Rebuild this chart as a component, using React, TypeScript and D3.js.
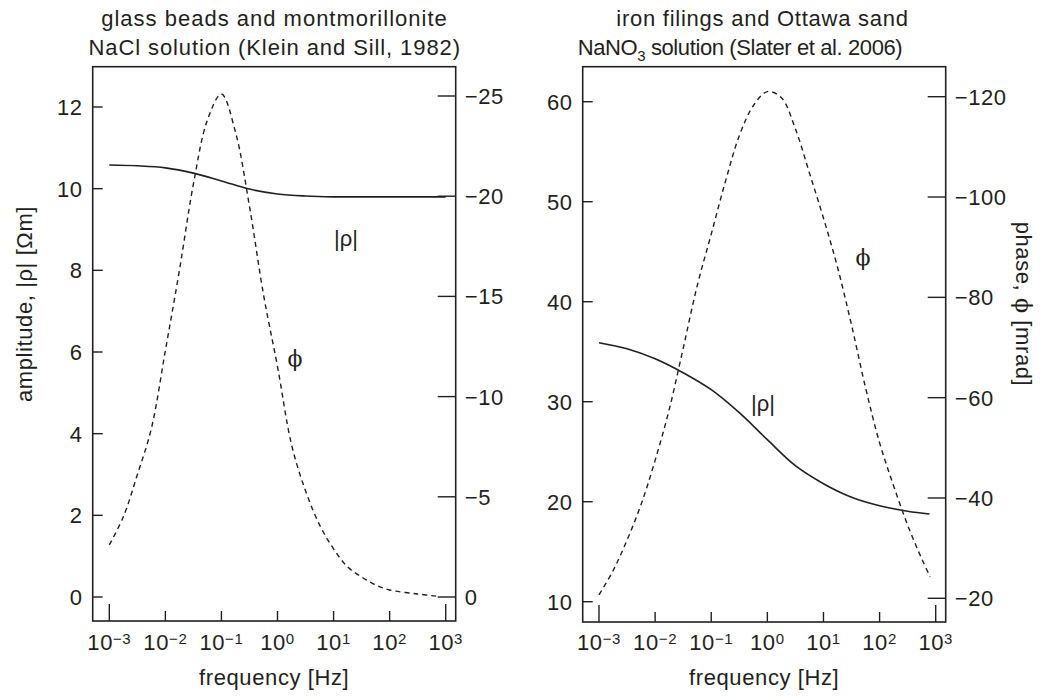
import React from 'react';
import * as d3 from 'd3';

// ---------- data ----------
const freqTicks = [1e-3, 1e-2, 1e-1, 1, 1e1, 1e2, 1e3];
const freqTickExp = ['−3', '−2', '−1', '0', '1', '2', '3'];

// Left panel: glass beads and montmorillonite (Klein and Sill, 1982)
const leftAmpTicks = [0, 2, 4, 6, 8, 10, 12];
const leftPhaseTicks = [0, -5, -10, -15, -20, -25];
const leftAmpFreq = [0.001, 0.00316, 0.01, 0.0316, 0.1, 0.316, 1, 3.16, 10, 100, 1000];
const leftAmpVal = [10.58, 10.56, 10.51, 10.38, 10.19, 9.99, 9.87, 9.82, 9.8, 9.8, 9.8];
const leftPhaseFreq = [0.001, 0.00178, 0.00316, 0.00562, 0.01, 0.0178, 0.0316, 0.0562, 0.1, 0.178, 0.316, 0.562, 1, 1.78, 3.16, 5.62, 10, 17.8, 31.6, 56.2, 100, 316, 741];
const leftPhaseVal = [-2.6, -4.0, -6.1, -8.4, -12.3, -16.3, -20.6, -23.8, -25.1, -23.2, -19.5, -15.1, -11.5, -7.6, -5.3, -3.6, -2.4, -1.5, -1.0, -0.6, -0.35, -0.15, -0.03];

// Right panel: iron filings and Ottawa sand (Slater et al. 2006)
const rightAmpTicks = [10, 20, 30, 40, 50, 60];
const rightPhaseTicks = [-20, -40, -60, -80, -100, -120];
const rightAmpFreq = [0.001, 0.00316, 0.01, 0.0316, 0.1, 0.316, 1, 3.16, 10, 31.6, 100, 316, 776];
const rightAmpVal = [35.9, 35.3, 34.3, 32.9, 31.2, 28.9, 26.2, 23.6, 21.8, 20.45, 19.6, 19.05, 18.77];
const rightPhaseFreq = [0.001, 0.00178, 0.00316, 0.00562, 0.01, 0.0178, 0.0316, 0.0562, 0.1, 0.178, 0.316, 0.562, 1, 1.78, 3.16, 5.62, 10, 17.8, 31.6, 56.2, 100, 178, 316, 562, 794];
const rightPhaseVal = [-20.7, -25.5, -31.6, -38.7, -47.5, -57.6, -69.8, -82.3, -92.6, -103.0, -112.2, -118.2, -121.0, -119.8, -113.6, -104.8, -95.8, -86.0, -74.5, -62.0, -51.0, -42.4, -34.6, -27.9, -24.3];

// ---------- style ----------
const INK = '#231f20';
const SANS = '"Liberation Sans", Arial, Helvetica, sans-serif';
const SERIF = '"DejaVu Serif", "Liberation Serif", serif';

type PanelProps = {
  x0: number; x1: number; y0: number; y1: number;
  xr: [number, number];
  ampDomain: [number, number]; ampRange: [number, number];
  phDomain: [number, number]; phRange: [number, number];
  ampTicks: number[]; phTicks: number[];
  ampF: number[]; ampV: number[]; phF: number[]; phV: number[];
  rhoPos: [number, number]; phiPos: [number, number];
  title1: React.ReactNode; title2: React.ReactNode;
  t1x: number; t2x: number; ls1: number; ls2: number;
};

function Panel(p: PanelProps) {
  const x = d3.scaleLog().domain([1e-3, 1e3]).range(p.xr);
  const ya = d3.scaleLinear().domain(p.ampDomain).range(p.ampRange);
  const yp = d3.scaleLinear().domain(p.phDomain).range(p.phRange);
  const ampLine = d3.line<number>().x((_, i) => x(p.ampF[i])).y(d => ya(d)).curve(d3.curveCatmullRom.alpha(0.5));
  const phLine = d3.line<number>().x((_, i) => x(p.phF[i])).y(d => yp(d)).curve(d3.curveCatmullRom.alpha(0.5));
  const cx = (p.x0 + p.x1) / 2;
  return (
    <g>
      <text x={p.t1x} y={26} textAnchor="middle" fontSize={22} letterSpacing={p.ls1} fill={INK}>{p.title1}</text>
      <text x={p.t2x} y={55} textAnchor="middle" fontSize={22} letterSpacing={p.ls2} fill={INK}>{p.title2}</text>
      <path d={ampLine(p.ampV) || ''} fill="none" stroke={INK} strokeWidth={1.6} />
      <path d={phLine(p.phV) || ''} fill="none" stroke={INK} strokeWidth={1.4} strokeDasharray="5,4" />
      <rect x={p.x0} y={p.y0} width={p.x1 - p.x0} height={p.y1 - p.y0} fill="none" stroke={INK} strokeWidth={1.6} />
      {p.ampTicks.map(t => (
        <g key={'a' + t}>
          <line x1={p.x0} x2={p.x0 + 10} y1={ya(t)} y2={ya(t)} stroke={INK} strokeWidth={1.4} />
          <text x={p.x0 - 10} y={ya(t)} dy="0.36em" textAnchor="end" fontSize={22} letterSpacing={0.6} fill={INK}>{t}</text>
        </g>
      ))}
      {p.phTicks.map(t => (
        <g key={'p' + t}>
          <line x1={p.x1 - 18} x2={p.x1} y1={yp(t)} y2={yp(t)} stroke={INK} strokeWidth={1.4} />
          <text x={p.x1 + 9} y={yp(t)} dy="0.36em" textAnchor="start" fontSize={22} letterSpacing={0.6} fill={INK}>{t < 0 ? '−' + Math.abs(t) : String(t)}</text>
        </g>
      ))}
      {freqTicks.map((f, i) => {
        const len = i === 0 || i === freqTicks.length - 1 ? 17 : 10;
        return (
          <g key={'f' + i}>
            <line x1={x(f)} x2={x(f)} y1={p.y1} y2={p.y1 - len} stroke={INK} strokeWidth={1.4} />
            <text x={x(f)} y={650} textAnchor="middle" fontSize={22} letterSpacing={0.6} fill={INK}>
              <tspan>10</tspan><tspan dy={-6} fontSize={15}>{freqTickExp[i]}</tspan>
            </text>
          </g>
        );
      })}
      <text x={cx} y={685} textAnchor="middle" fontSize={22} letterSpacing={0.6} fill={INK}>frequency [Hz]</text>
      <text x={p.rhoPos[0]} y={p.rhoPos[1]} dy="0.36em" textAnchor="middle" fontSize={22} fill={INK}>|ρ|</text>
      <text x={p.phiPos[0]} y={p.phiPos[1]} dy="0.36em" textAnchor="middle" fontSize={22} fontFamily={SERIF} fill={INK}>ϕ</text>
    </g>
  );
}

export default function App() {
  return (
    <svg width={1046} height={696} viewBox="0 0 1046 696"
      style={{ position: 'absolute', left: 0, top: 0, display: 'block', background: '#fff' }}
      fontFamily={SANS}>
      <rect x={0} y={0} width={1046} height={696} fill="#fff" />
      <Panel
        x0={92.7} x1={455.7} y0={66.7} y1={621}
        xr={[109.3, 445.7]}
        ampDomain={[0, 12]} ampRange={[597, 107]}
        phDomain={[0, -25]} phRange={[597, 96]}
        ampTicks={leftAmpTicks} phTicks={leftPhaseTicks}
        ampF={leftAmpFreq} ampV={leftAmpVal} phF={leftPhaseFreq} phV={leftPhaseVal}
        rhoPos={[346, 238]} phiPos={[295, 358]}
        t1x={274.5} t2x={274.7} ls1={1.0} ls2={0.9}
        title1="glass beads and montmorillonite"
        title2="NaCl solution (Klein and Sill, 1982)"
      />
      <Panel
        x0={582.7} x1={945.7} y0={66.7} y1={622}
        xr={[599, 935.7]}
        ampDomain={[10, 60]} ampRange={[601.7, 101.7]}
        phDomain={[-20, -120]} phRange={[598.3, 96.7]}
        ampTicks={rightAmpTicks} phTicks={rightPhaseTicks}
        ampF={rightAmpFreq} ampV={rightAmpVal} phF={rightPhaseFreq} phV={rightPhaseVal}
        rhoPos={[763, 403]} phiPos={[863, 257]}
        t1x={762.5} t2x={740} ls1={0.75} ls2={-0.4}
        title1="iron filings and Ottawa sand"
        title2={<><tspan>NaNO</tspan><tspan dy={6} fontSize={15}>3</tspan><tspan dy={-6}> solution (Slater et al. 2006)</tspan></>}
      />
      <text transform="translate(24,304) rotate(-90)" textAnchor="middle" dy="0.36em" fontSize={22} letterSpacing={0.6} fill={INK}>
        amplitude, |ρ| [Ωm]
      </text>
      <text transform="translate(1024,304) rotate(90)" textAnchor="middle" dy="0.36em" fontSize={22} letterSpacing={0.6} fill={INK}>
        phase, <tspan fontFamily={SERIF}>ϕ</tspan> [mrad]
      </text>
    </svg>
  );
}
